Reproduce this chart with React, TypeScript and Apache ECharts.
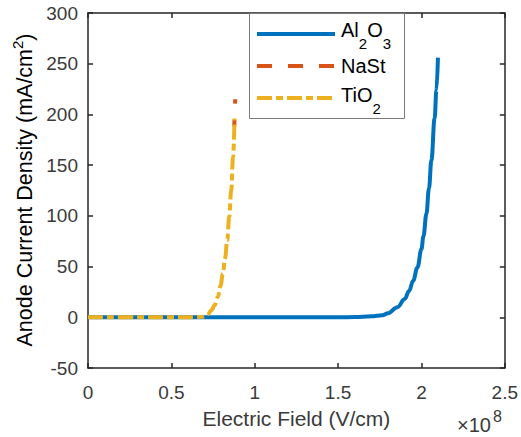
import React, { useEffect, useRef } from "react";
import * as echarts from "echarts";

const xTickValues = [0, 0.5, 1, 1.5, 2, 2.5];
const yTickValues = [-50, 0, 50, 100, 150, 200, 250, 300];

// x in units of 1e8 V/cm, y in mA/cm^2
const al2o3X = [0, 0.5, 1.0, 1.5, 1.6, 1.7, 1.766, 1.8, 1.856, 1.9, 1.926, 1.95, 1.976, 2.0, 2.012, 2.03, 2.045, 2.06, 2.079, 2.09, 2.099];
const al2o3Y = [0, 0, 0, 0, 0.3, 0.9, 2, 4, 10, 18, 26, 36, 49, 67, 80, 102, 127, 155, 196, 224, 256];

const nastX = [0.877, 0.88, 0.883];
const nastY = [188, 200, 215];

const tio2X = [0, 0.3, 0.6, 0.65, 0.69, 0.72, 0.74, 0.76, 0.779, 0.795, 0.809, 0.822, 0.835, 0.847, 0.859, 0.87, 0.879];
const tio2Y = [0, 0, 0, 0.2, 0.6, 3, 7, 12, 20, 31, 43, 58, 76, 99, 125, 158, 196];

const seriesNames = ["Al2O3", "NaSt", "TiO2"];
const colors = ["#0072BD", "#D95319", "#EDB120"];

const FONT = "'Liberation Sans', Arial, Helvetica, sans-serif";
const TXT = "#3a3a3a";
const AX = "#262626";

const zip = (xs: number[], ys: number[]) => xs.map((x, i) => [x, ys[i]]);

export default function App() {
  const ref = useRef<HTMLDivElement>(null);
  useEffect(() => {
    if (!ref.current) return;
    const chart = echarts.init(ref.current, null, { renderer: "svg" });
    const axisCommon = {
      type: "value" as const,
      splitLine: { show: false },
      axisLine: { show: true, onZero: false, lineStyle: { color: AX, width: 1.5 } },
      axisTick: { show: true, inside: true, length: 5, lineStyle: { color: AX, width: 1.5 } },
    };
    const legendRows = [
      { y: 30, text: "{n|Al}{s|2}{n|O}{s|3}", lineY: 34, dash: null as any },
      { y: 66, text: "{n|NaSt}", lineY: 66, dash: [15, 16] },
      { y: 95, text: "{n|TiO}{s|2}", lineY: 98, dash: [15, 4, 7, 4] },
    ];
    const richLegend = {
      n: { fontSize: 20, fontFamily: FONT, color: "#222" },
      s: { fontSize: 15, fontFamily: FONT, color: "#222", padding: [26, 0, 0, 0] },
    };
    const graphics: any[] = [
      {
        type: "rect",
        shape: { x: 249.5, y: 13.5, width: 155, height: 105 },
        style: { fill: "#fff", stroke: "#7a7a7a", lineWidth: 1 },
        z: 100,
      },
    ];
    legendRows.forEach((r, i) => {
      graphics.push({
        type: "line",
        shape: { x1: 257, y1: r.lineY, x2: 335, y2: r.lineY },
        style: { stroke: colors[i], lineWidth: 4, lineDash: r.dash || undefined },
        z: 101,
      });
      graphics.push({
        type: "text",
        x: 341,
        y: r.y,
        style: {
          text: r.text,
          rich: richLegend,
          align: "left",
          verticalAlign: "middle",
        },
        z: 101,
      });
    });
    graphics.push({
      type: "text",
      x: 25,
      y: 190,
      rotation: Math.PI / 2,
      style: {
        text: "{n|Anode Current Density (mA/cm}{p|2}{n|)}",
        rich: {
          n: { fontSize: 21.5, fontFamily: FONT, color: TXT },
          p: { fontSize: 15, fontFamily: FONT, color: TXT, padding: [0, 0, 16, 0] },
        },
        align: "center",
        verticalAlign: "middle",
      },
    });
    graphics.push({
      type: "text",
      x: 457,
      y: 425,
      style: {
        text: "×10",
        fontSize: 20,
        fontFamily: FONT,
        fill: TXT,
        align: "left",
        verticalAlign: "middle",
      },
    });
    graphics.push({
      type: "text",
      x: 493,
      y: 416,
      style: {
        text: "8",
        fontSize: 16,
        fontFamily: FONT,
        fill: TXT,
        align: "left",
        verticalAlign: "middle",
      },
    });

    chart.setOption({
      animation: false,
      backgroundColor: "#fff",
      grid: { left: 88, right: 15, top: 13, bottom: 69, containLabel: false },
      xAxis: [
        {
          ...axisCommon,
          position: "bottom",
          min: xTickValues[0],
          max: xTickValues[xTickValues.length - 1],
          interval: 0.5,
          name: "Electric Field (V/cm)",
          nameLocation: "middle",
          nameGap: 40,
          nameTextStyle: { fontSize: 21, fontFamily: FONT, color: TXT },
          axisLabel: { fontSize: 19, fontFamily: FONT, color: TXT, margin: 15 },
        },
        {
          ...axisCommon,
          position: "top",
          min: xTickValues[0],
          max: xTickValues[xTickValues.length - 1],
          interval: 0.5,
          axisLabel: { show: false },
        },
      ],
      yAxis: [
        {
          ...axisCommon,
          position: "left",
          min: yTickValues[0],
          max: yTickValues[yTickValues.length - 1],
          interval: 50,
          axisLabel: { fontSize: 19, fontFamily: FONT, color: TXT, margin: 10 },
        },
        {
          ...axisCommon,
          position: "right",
          min: yTickValues[0],
          max: yTickValues[yTickValues.length - 1],
          interval: 50,
          axisLabel: { show: false },
        },
      ],
      series: [
        {
          name: seriesNames[0],
          type: "line",
          data: zip(al2o3X, al2o3Y),
          showSymbol: false,
          smooth: 0.4,
          smoothMonotone: "x",
          lineStyle: { color: colors[0], width: 4 },
          z: 2,
        },
        {
          name: seriesNames[1],
          type: "line",
          data: zip(nastX, nastY),
          showSymbol: false,
          lineStyle: { color: colors[1], width: 4, type: [15, 16], dashOffset: 8, cap: "butt" },
          z: 3,
        },
        {
          name: seriesNames[2],
          type: "line",
          data: zip(tio2X, tio2Y),
          showSymbol: false,
          smooth: 0.4,
          smoothMonotone: "x",
          lineStyle: { color: colors[2], width: 4, type: [15, 4, 7, 4], cap: "butt" },
          z: 4,
        },
      ],
      graphic: graphics,
    });
    return () => chart.dispose();
  }, []);
  return <div ref={ref} style={{ width: 521, height: 437, position: "absolute", left: 0, top: 0 }} />;
}
